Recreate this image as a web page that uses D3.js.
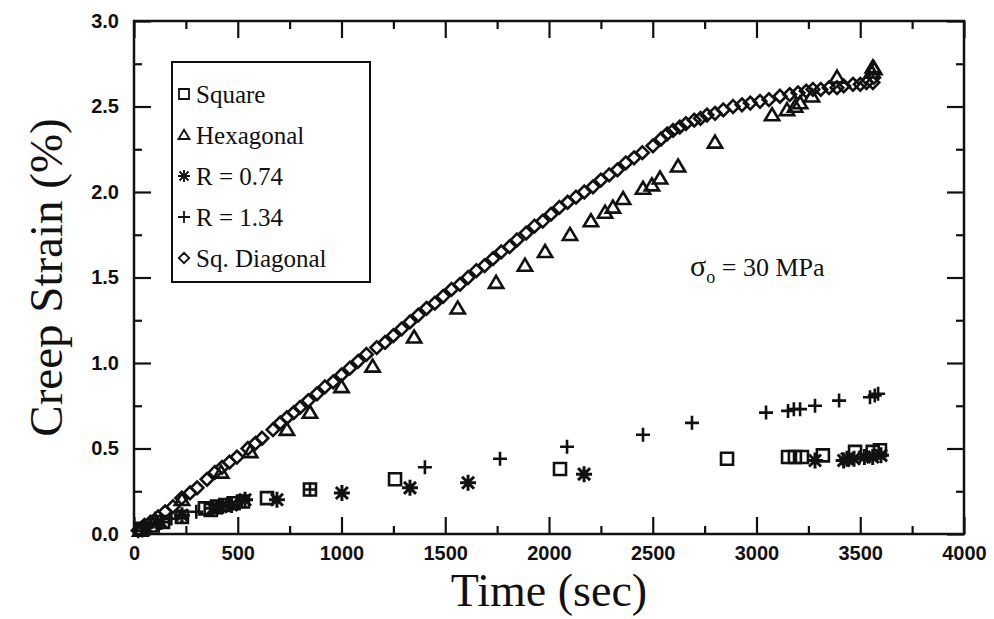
<!DOCTYPE html>
<html>
<head>
<meta charset="utf-8">
<script src="https://cdn.jsdelivr.net/npm/d3@7"></script>
<style>
  body { margin: 0; background: #fff; }
  .tick text { font-family: "Liberation Sans", Arial, sans-serif; font-weight: bold; font-size: 20px; fill: #111; }
</style>
</head>
<body>
<div id="chart"></div>
<script>
// creep strain vs time, five specimen layouts

// [time (sec), creep strain (%)]
var square = [[40,0.03],[90,0.05],[140,0.07],[231,0.10],[342,0.15],[370,0.14],[400,0.16],[440,0.17],[480,0.18],[525,0.19],
  [641,0.21],[848,0.26],[1258,0.32],[2053,0.38],[2858,0.44],[3152,0.45],[3185,0.45],[3219,0.45],[3320,0.46],[3475,0.48],
  [3560,0.48],[3595,0.49]];

var hexagonal = [[30,0.02],[100,0.08],[231,0.20],[420,0.36],[560,0.48],[737,0.61],[848,0.71],[1000,0.86],[1150,0.98],
  [1350,1.15],[1560,1.32],[1745,1.47],[1884,1.57],[1981,1.65],[2101,1.75],[2202,1.83],[2270,1.88],[2308,1.91],[2357,1.96],
  [2453,2.02],[2496,2.04],[2535,2.08],[2622,2.15],[2800,2.29],[3075,2.45],[3147,2.48],[3186,2.50],[3210,2.52],[3267,2.56],
  [3388,2.67],[3555,2.70],[3561,2.73],[3568,2.72]];

var r074 = [[60,0.04],[130,0.07],[231,0.11],[380,0.15],[420,0.16],[470,0.17],[535,0.20],[689,0.20],[1002,0.24],[1330,0.27],
  [1610,0.30],[2169,0.35],[3282,0.43],[3420,0.43],[3436,0.44],[3470,0.44],[3520,0.45],[3560,0.45],[3600,0.46]];

var r134 = [[40,0.02],[110,0.06],[180,0.09],[231,0.10],[300,0.13],[400,0.15],[460,0.17],[520,0.19],[848,0.26],[1402,0.39],
  [1764,0.44],[2087,0.51],[2453,0.58],[2689,0.65],[3046,0.71],[3152,0.72],[3180,0.73],[3210,0.73],[3282,0.75],[3398,0.78],
  [3547,0.80],[3570,0.81],[3586,0.82]];

var sqDiagonal = [[20,0.02],[50,0.05],[80,0.07],[116,0.10],[150,0.13],[188,0.16],[230,0.21],[270,0.24],[304,0.27],[352,0.32],
  [390,0.36],[424,0.39],[460,0.42],[496,0.45],[549,0.50],[585,0.53],[617,0.56],[670,0.61],[705,0.65],[737,0.68],[770,0.71],
  [800,0.74],[840,0.78],[882,0.82],[920,0.86],[960,0.89],[1000,0.93],[1040,0.97],[1080,1.01],[1120,1.05],[1170,1.09],
  [1210,1.12],[1250,1.16],[1290,1.20],[1330,1.24],[1370,1.28],[1410,1.32],[1450,1.35],[1490,1.39],[1530,1.43],[1571,1.46],
  [1610,1.50],[1650,1.54],[1690,1.57],[1730,1.61],[1770,1.65],[1810,1.68],[1846,1.72],[1890,1.76],[1930,1.80],[1970,1.83],
  [2010,1.87],[2050,1.91],[2090,1.94],[2130,1.97],[2170,2.00],[2212,2.03],[2250,2.07],[2290,2.10],[2330,2.13],[2370,2.17],
  [2410,2.20],[2450,2.23],[2501,2.27],[2540,2.31],[2570,2.34],[2598,2.36],[2630,2.38],[2660,2.40],[2700,2.42],[2730,2.43],
  [2761,2.45],[2800,2.46],[2840,2.48],[2887,2.50],[2930,2.51],[2970,2.52],[3017,2.53],[3060,2.54],[3113,2.56],[3160,2.57],
  [3200,2.58],[3240,2.59],[3272,2.60],[3310,2.60],[3350,2.61],[3388,2.61],[3420,2.62],[3465,2.63],[3500,2.63],[3530,2.64],
  [3561,2.64],[3565,2.67]];

var seriesNames = ["Square", "Hexagonal", "R = 0.74", "R = 1.34", "Sq. Diagonal"];
var xTicks = [0, 500, 1000, 1500, 2000, 2500, 3000, 3500, 4000];
var yTicks = [0, 0.5, 1.0, 1.5, 2.0, 2.5, 3.0];

var margin = {left: 134, right: 30, top: 21, bottom: 85};
var width = 994 - margin.left - margin.right,
    height = 619 - margin.top - margin.bottom;

var svg = d3.select("#chart")
  .append("svg")
    .attr("width", 994)
    .attr("height", 619);

var g = svg.append("g")
  .attr("transform", "translate(" + margin.left + "," + margin.top + ")");

var x = d3.scaleLinear().domain([0, 4000]).range([0, width]);
var y = d3.scaleLinear().domain([0, 3]).range([height, 0]);

// marker shapes, drawn in black outline like the scan
var shapes = {
  "Square": function(s) { var h = s / 2; return "M" + (-h) + "," + (-h) + "h" + s + "v" + s + "h" + (-s) + "Z"; },
  "Hexagonal": function(s) { var h = s / 2; return "M0," + (-h * 1.05) + "L" + (h * 1.1) + "," + (h * 0.8) + "L" + (-h * 1.1) + "," + (h * 0.8) + "Z"; },
  "R = 0.74": function(s) { var h = s / 2, d = h * 0.75;
    return "M0," + (-h) + "V" + h + "M" + (-h) + ",0H" + h + "M" + (-d) + "," + (-d) + "L" + d + "," + d + "M" + (-d) + "," + d + "L" + d + "," + (-d); },
  "R = 1.34": function(s) { var h = s / 2; return "M0," + (-h) + "V" + h + "M" + (-h) + ",0H" + h; },
  "Sq. Diagonal": function(s) { var h = s / 2 * 1.05; return "M0," + (-h) + "L" + h + ",0L0," + h + "L" + (-h) + ",0Z"; }
};

var seriesData = {
  "Square": square,
  "Hexagonal": hexagonal,
  "R = 0.74": r074,
  "R = 1.34": r134,
  "Sq. Diagonal": sqDiagonal
};

var sizes = {"Square": 12, "Hexagonal": 13, "R = 0.74": 16, "R = 1.34": 14, "Sq. Diagonal": 12};

// minor ticks (every 250 s and 0.25 %)
var xMinor = xTicks.slice(0, -1).map(function(d) { return d + 250; });
var yMinor = yTicks.slice(0, -1).map(function(d) { return d + 0.25; });

function tickLines(axis) {
  axis.select(".domain").remove();
  axis.selectAll("line").attr("stroke", "#111").attr("stroke-width", 2.2);
}

// bottom axis with labels
g.append("g")
  .attr("class", "x axis")
  .attr("transform", "translate(0," + height + ")")
  .call(d3.axisBottom(x).tickValues(xTicks).tickSizeInner(-17).tickSizeOuter(0).tickPadding(12).tickFormat(d3.format("d")))
  .call(tickLines);

g.append("g")
  .attr("transform", "translate(0," + height + ")")
  .call(d3.axisBottom(x).tickValues(xMinor).tickSizeInner(-8).tickSizeOuter(0).tickFormat(""))
  .call(tickLines);

// top axis, ticks only
g.append("g")
  .call(d3.axisTop(x).tickValues(xTicks).tickSizeInner(-17).tickSizeOuter(0).tickFormat(""))
  .call(tickLines);
g.append("g")
  .call(d3.axisTop(x).tickValues(xMinor).tickSizeInner(-8).tickSizeOuter(0).tickFormat(""))
  .call(tickLines);

// left axis with labels
g.append("g")
  .attr("class", "y axis")
  .call(d3.axisLeft(y).tickValues(yTicks).tickSizeInner(-17).tickSizeOuter(0).tickPadding(15).tickFormat(d3.format(".1f")))
  .call(tickLines);
g.append("g")
  .call(d3.axisLeft(y).tickValues(yMinor).tickSizeInner(-8).tickSizeOuter(0).tickFormat(""))
  .call(tickLines);

// right axis, ticks only
g.append("g")
  .attr("transform", "translate(" + width + ",0)")
  .call(d3.axisRight(y).tickValues(yTicks).tickSizeInner(-17).tickSizeOuter(0).tickFormat(""))
  .call(tickLines);
g.append("g")
  .attr("transform", "translate(" + width + ",0)")
  .call(d3.axisRight(y).tickValues(yMinor).tickSizeInner(-8).tickSizeOuter(0).tickFormat(""))
  .call(tickLines);

// frame
g.append("rect")
  .attr("width", width)
  .attr("height", height)
  .attr("fill", "none")
  .attr("stroke", "#111")
  .attr("stroke-width", 2.5);

// data points
seriesNames.forEach(function(name) {
  g.append("g")
    .attr("class", "series")
    .selectAll("path")
    .data(seriesData[name])
    .enter()
    .append("path")
      .attr("transform", function(d) { return "translate(" + x(d[0]) + "," + y(d[1]) + ")"; })
      .attr("d", shapes[name](sizes[name]))
      .attr("fill", "none")
      .attr("stroke", "#111")
      .attr("stroke-width", name === "R = 0.74" ? 3 : 2.6);
});

// legend
var legendBox = g.append("g").attr("transform", "translate(38,41)");
legendBox.append("rect")
  .attr("width", 198)
  .attr("height", 220)
  .attr("fill", "#fff")
  .attr("stroke", "#111")
  .attr("stroke-width", 2);

var legend = legendBox.selectAll("g.item")
  .data(seriesNames)
  .enter()
  .append("g")
    .attr("class", "item")
    .attr("transform", function(d, i) { return "translate(12," + (32 + i * 41) + ")"; });

legend.append("path")
  .attr("d", function(d) { return shapes[d](d === "R = 1.34" || d === "R = 0.74" ? 12 : 10); })
  .attr("fill", "none")
  .attr("stroke", "#111")
  .attr("stroke-width", 1.8);

legend.append("text")
  .attr("x", 12)
  .attr("dy", "0.35em")
  .attr("font-family", "'Liberation Serif', 'Times New Roman', serif")
  .attr("font-size", 25)
  .attr("fill", "#111")
  .text(function(d) { return d; });

// stress annotation
var note = g.append("text")
  .attr("x", x(2680))
  .attr("y", y(1.5) - 2)
  .attr("font-family", "'Liberation Serif', 'Times New Roman', serif")
  .attr("font-size", 26)
  .attr("fill", "#111");
note.append("tspan").attr("font-size", 30).text("σ");
note.append("tspan").attr("font-size", 18).attr("dy", 7).text("o");
note.append("tspan").attr("dy", -7).text(" = 30 MPa");

// axis titles
svg.append("text")
  .attr("x", margin.left + width / 2)
  .attr("y", 606)
  .attr("text-anchor", "middle")
  .attr("font-family", "'Liberation Serif', 'Times New Roman', serif")
  .attr("font-size", 46)
  .attr("fill", "#111")
  .text("Time (sec)");

svg.append("text")
  .attr("transform", "translate(62," + (margin.top + height / 2) + ") rotate(-90)")
  .attr("text-anchor", "middle")
  .attr("font-family", "'Liberation Serif', 'Times New Roman', serif")
  .attr("font-size", 47)
  .attr("fill", "#111")
  .text("Creep Strain (%)");
</script>
</body>
</html>
